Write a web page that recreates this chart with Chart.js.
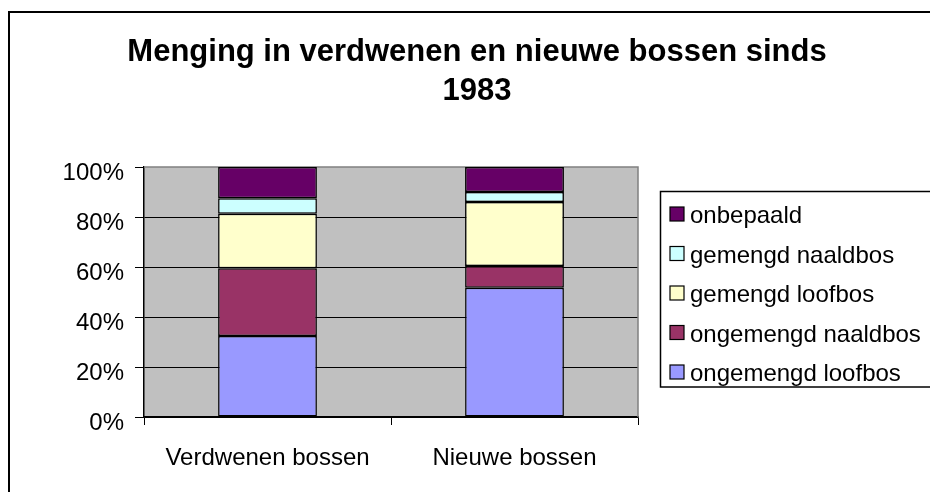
<!DOCTYPE html>
<html>
<head>
<meta charset="utf-8">
<script src="https://cdn.jsdelivr.net/npm/chart.js@4"></script>
<style>
  body { margin: 0; background: #fff; overflow: hidden; }
  canvas { display: block; }
</style>
</head>
<body>
<canvas id="chart" width="930" height="492"></canvas>
<script>
// data (percent of each bar)
const categories = ['Verdwenen bossen', 'Nieuwe bossen'];
const ongemengdLoofbos = [32.4, 51.7];
const ongemengdNaaldbos = [27.1, 8.7];
const gemengdLoofbos = [21.8, 25.6];
const gemengdNaaldbos = [6.2, 4.0];
const onbepaald = [12.5, 10.0];
const yTicks = [0, 20, 40, 60, 80, 100];

const titleLines = ['Menging in verdwenen en nieuwe bossen sinds', '1983'];
const FONT = '"Liberation Sans", Arial, sans-serif';

const series = [
  { label: 'ongemengd loofbos', data: ongemengdLoofbos, color: '#9999FF' },
  { label: 'ongemengd naaldbos', data: ongemengdNaaldbos, color: '#993366' },
  { label: 'gemengd loofbos', data: gemengdLoofbos, color: '#FFFFCC' },
  { label: 'gemengd naaldbos', data: gemengdNaaldbos, color: '#CCFFFF' },
  { label: 'onbepaald', data: onbepaald, color: '#660066' }
];

// frame, grey plot area, title and the boxed legend like the old Excel chart
const excelChrome = {
  id: 'excelChrome',
  beforeDraw(chart) {
    const { ctx, chartArea: a } = chart;
    ctx.save();
    ctx.fillStyle = '#fff';
    ctx.fillRect(0, 0, chart.width, chart.height);
    ctx.strokeStyle = '#000';
    ctx.lineWidth = 2;
    ctx.strokeRect(9, 12, 1000, 1000);
    ctx.fillStyle = '#C0C0C0';
    ctx.fillRect(a.left, a.top, a.right - a.left, a.bottom - a.top);

    ctx.fillStyle = '#000';
    ctx.font = 'bold 31px ' + FONT;
    ctx.textAlign = 'center';
    ctx.textBaseline = 'alphabetic';
    ctx.fillText(titleLines[0], 477, 61);
    ctx.fillText(titleLines[1], 477, 100);
    ctx.restore();
  },
  beforeDatasetsDraw(chart) {
    const { ctx, chartArea: a } = chart;
    ctx.save();
    ctx.strokeStyle = '#808080';
    ctx.lineWidth = 1.5;
    ctx.beginPath();
    ctx.moveTo(a.left, a.top);
    ctx.lineTo(a.right, a.top);
    ctx.lineTo(a.right, a.bottom);
    ctx.stroke();
    ctx.restore();
  },
  afterDraw(chart) {
    const ctx = chart.ctx;
    ctx.save();
    ctx.strokeStyle = '#000';
    ctx.lineWidth = 1.5;
    ctx.strokeRect(660.5, 191.5, 400, 195.5);

    ctx.font = '24px ' + FONT;
    ctx.textAlign = 'left';
    ctx.textBaseline = 'alphabetic';
    const sets = chart.data.datasets.slice().reverse();
    sets.forEach((ds, i) => {
      const base = 223 + i * 39.5;
      ctx.fillStyle = ds.backgroundColor;
      ctx.fillRect(670, base - 16, 14, 14);
      ctx.lineWidth = 1.2;
      ctx.strokeStyle = '#000';
      ctx.strokeRect(670, base - 16, 14, 14);
      ctx.fillStyle = '#000';
      ctx.fillText(ds.label, 690, base);
    });
    ctx.restore();
  }
};

new Chart(document.getElementById('chart'), {
  type: 'bar',
  data: {
    labels: categories,
    datasets: series.map(s => ({
      label: s.label,
      data: s.data,
      backgroundColor: s.color,
      borderColor: '#000',
      borderWidth: 1.5,
      borderSkipped: false,
      barPercentage: 0.4,
      categoryPercentage: 1.0
    }))
  },
  options: {
    responsive: false,
    devicePixelRatio: 1,
    animation: false,
    layout: { padding: { left: 0, top: 167, right: 292, bottom: 0 } },
    plugins: {
      legend: { display: false },
      title: { display: false },
      tooltip: { enabled: false }
    },
    scales: {
      x: {
        stacked: true,
        grid: {
          offset: true,
          drawOnChartArea: false,
          tickLength: 8,
          tickColor: '#000',
          lineWidth: 1
        },
        border: { color: '#000', width: 1.5 },
        ticks: {
          color: '#000',
          font: { family: FONT, size: 24 },
          padding: 19,
          maxRotation: 0
        },
        afterFit(scale) { scale.height = 75; }
      },
      y: {
        stacked: true,
        min: 0,
        max: 100,
        afterBuildTicks(scale) { scale.ticks = yTicks.map(v => ({ value: v })); },
        grid: {
          color: c => (c.tick && c.tick.value === 100 ? 'rgba(0,0,0,0)' : '#000'),
          tickColor: '#000',
          tickLength: 9,
          lineWidth: 1
        },
        border: { color: '#000', width: 1.5 },
        ticks: {
          color: '#000',
          font: { family: FONT, size: 24 },
          padding: 11,
          labelOffset: 6,
          callback: v => v + '%'
        },
        afterFit(scale) { scale.width = 144; }
      }
    }
  },
  plugins: [excelChrome]
});
</script>
</body>
</html>
